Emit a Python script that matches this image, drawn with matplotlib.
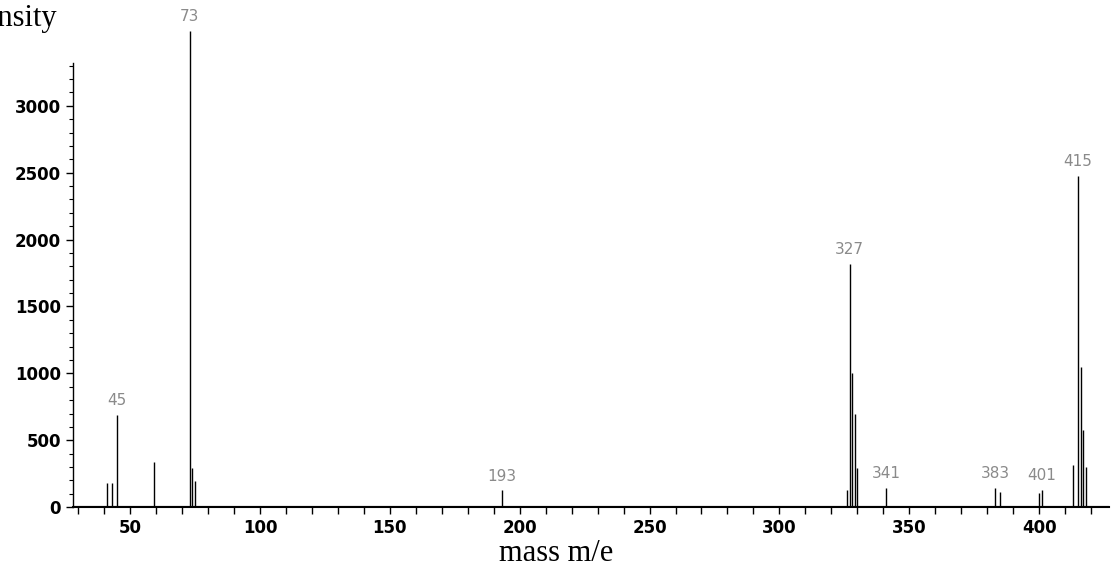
import matplotlib.pyplot as plt
from matplotlib.ticker import MultipleLocator

# peak list (m/e, intensity)
mz = [41, 43, 45, 59, 73, 74, 75, 193,
      326, 327, 328, 329, 330, 341,
      383, 385, 400, 401,
      413, 415, 416, 417, 418]
intensity = [180, 180, 690, 335, 3560, 290, 195, 125,
             125, 1817, 1000, 700, 290, 142,
             142, 112, 105, 127,
             315, 2475, 1047, 580, 300]

# labelled peaks
label_mz = [45, 73, 193, 327, 341, 383, 401, 415]
label_int = [690, 3560, 125, 1817, 142, 142, 127, 2475]

x_ticks = [50, 100, 150, 200, 250, 300, 350, 400]
y_ticks = [0, 500, 1000, 1500, 2000, 2500, 3000]


def plot_spectrum():
    fig = plt.figure(figsize=(11.13, 5.83), dpi=100)
    ax = fig.add_axes([0.0656, 0.130, 0.931, 0.762])

    # tallest peak runs past the top of the axis, as in the original
    ax.vlines(mz, 0, intensity, colors='black', linewidth=1.0, clip_on=False)
    ax.axhline(0, color='black', linewidth=1.5)

    for m, h in zip(label_mz, label_int):
        ax.annotate(str(m), (m, h), xytext=(0, 5), textcoords='offset points',
                    ha='center', va='bottom', fontsize=11, color='#8a8a8a',
                    annotation_clip=False)

    ax.set_xlim(28, 427)
    ax.set_ylim(0, 3320)

    for side in ['top', 'right']:
        ax.spines[side].set_visible(False)
    ax.spines['left'].set_linewidth(1.0)
    ax.spines['bottom'].set_linewidth(1.5)

    ax.set_xticks(x_ticks)
    ax.set_yticks(y_ticks)
    ax.xaxis.set_minor_locator(MultipleLocator(10))
    ax.yaxis.set_minor_locator(MultipleLocator(100))
    ax.tick_params(axis='x', which='both', length=5, width=1, direction='out')
    ax.tick_params(axis='y', which='major', length=5, width=1, direction='out')
    ax.tick_params(axis='y', which='minor', length=3, width=0.8, direction='out')
    ax.tick_params(labelsize=12)
    for lab in ax.get_xticklabels() + ax.get_yticklabels():
        lab.set_fontweight('bold')

    fig.text(0.5, 0.05, 'mass m/e', ha='center', va='center',
             fontsize=22, family='Liberation Serif')
    # the original scan crops this label at the left edge
    fig.text(0.052, 0.955, 'Intensity', ha='right', va='baseline',
             fontsize=22, family='Liberation Serif')

    fig.savefig('out.png', dpi=100)


def main():
    plot_spectrum()


if __name__ == '__main__':
    main()
